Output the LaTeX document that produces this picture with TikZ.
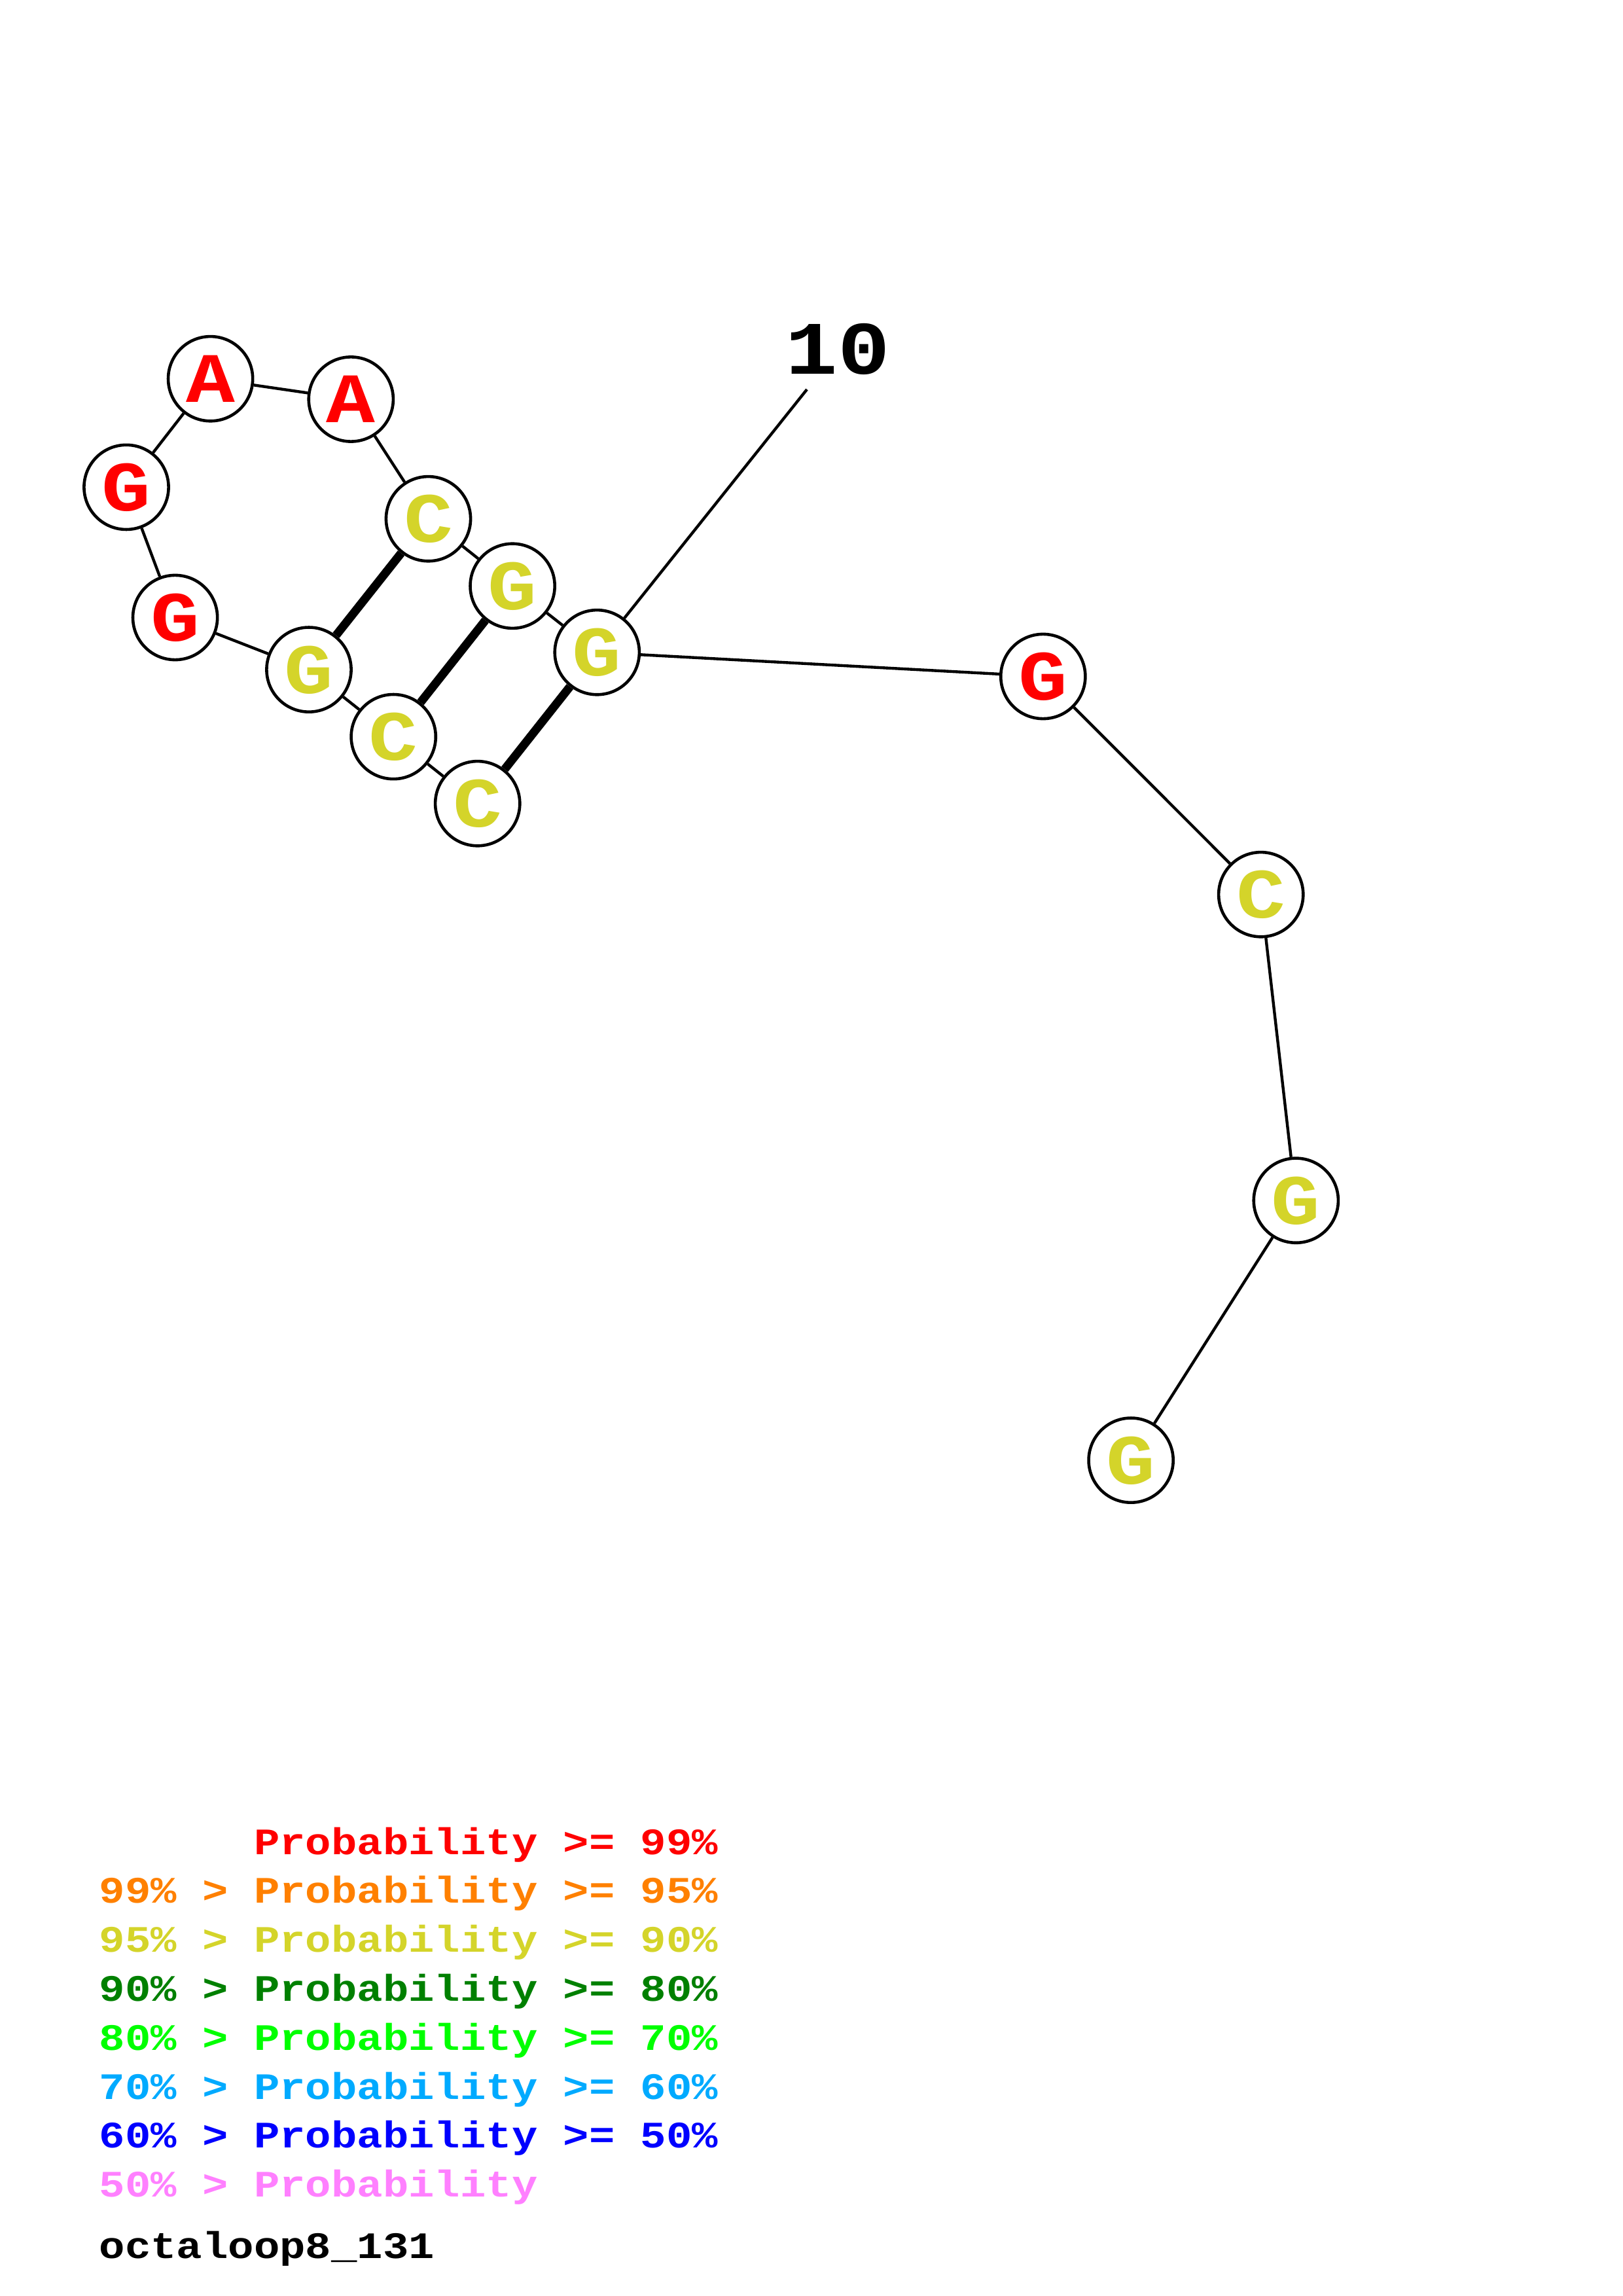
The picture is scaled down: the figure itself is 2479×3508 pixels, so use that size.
\documentclass[tikz,border=0pt]{standalone}
\usepackage{fontspec}
\newfontfamily\monofont[FakeStretch=1.15]{Liberation Mono}
\definecolor{cred}{RGB}{255,0,0}
\definecolor{corange}{RGB}{255,128,0}
\definecolor{cyel}{RGB}{212,212,42}
\definecolor{cdgreen}{RGB}{0,128,0}
\definecolor{cgreen}{RGB}{0,255,0}
\definecolor{clblue}{RGB}{0,170,255}
\definecolor{cblue}{RGB}{0,0,255}
\definecolor{cpink}{RGB}{255,128,255}
\tikzset{
  base/.style={circle,draw=black,line width=1.1pt,fill=white,minimum size=31pt,inner sep=0pt,text depth=0pt,
    font=\monofont\bfseries\fontsize{26}{26}\selectfont},
  bred/.style={base,text=cred},
  byel/.style={base,text=cyel},
  bb/.style={line width=1.05pt},
  bp/.style={line width=3.1pt},
  leg/.style={anchor=base west,inner sep=0pt,font=\monofont\bfseries\fontsize{13.7}{13.7}\selectfont}
}
\begin{document}
\begin{tikzpicture}[x=0.24pt,y=-0.24pt]
\useasboundingbox (0,0) rectangle (2479,3508);
\node[byel] (n1) at (729.7,1227.7) {C};
\node[byel] (n2) at (601.2,1125.6) {C};
\node[byel] (n3) at (472.0,1023.1) {G};
\node[bred] (n4) at (267.6,943.5) {G};
\node[bred] (n5) at (193.0,744.4) {G};
\node[bred] (n6) at (321.6,578.7) {A};
\node[bred] (n7) at (536.3,610.0) {A};
\node[byel] (n8) at (654.5,792.7) {C};
\node[byel] (n9) at (783.1,895.3) {G};
\node[byel] (n10) at (912.3,996.7) {G};
\node[bred] (n11) at (1593.8,1033.5) {G};
\node[byel] (n12) at (1926.7,1366.7) {C};
\node[byel] (n13) at (1980.3,1834.2) {G};
\node[byel] (n14) at (1728.1,2231.1) {G};
\draw[bb] (n1)--(n2) (n2)--(n3) (n3)--(n4) (n4)--(n5) (n5)--(n6) (n6)--(n7) (n7)--(n8)
  (n8)--(n9) (n9)--(n10) (n10)--(n11) (n11)--(n12) (n12)--(n13) (n13)--(n14);
\draw[bp] (n1)--(n10) (n2)--(n9) (n3)--(n8);
\node[inner sep=0pt,text depth=0pt,font=\monofont\bfseries\fontsize{27.7}{27.7}\selectfont] (lab10) at (1280,533) {10};
\coordinate (c10) at (1233,595);
\draw[bb] (c10)--(n10);
\node[leg,text=cred] (l1) at (151,2833) {\phantom{99\% > }Probability >= 99\%};
\node[leg,text=corange] (l2) at (151,2907.8) {99\% > Probability >= 95\%};
\node[leg,text=cyel] (l3) at (151,2982.6) {95\% > Probability >= 90\%};
\node[leg,text=cdgreen] (l4) at (151,3057.4) {90\% > Probability >= 80\%};
\node[leg,text=cgreen] (l5) at (151,3132.2) {80\% > Probability >= 70\%};
\node[leg,text=clblue] (l6) at (151,3207) {70\% > Probability >= 60\%};
\node[leg,text=cblue] (l7) at (151,3281.8) {60\% > Probability >= 50\%};
\node[leg,text=cpink] (l8) at (151,3356.6) {50\% > Probability};
\node[leg,text=black] (l9) at (151,3450) {octaloop8\_131};
\end{tikzpicture}
\end{document}
